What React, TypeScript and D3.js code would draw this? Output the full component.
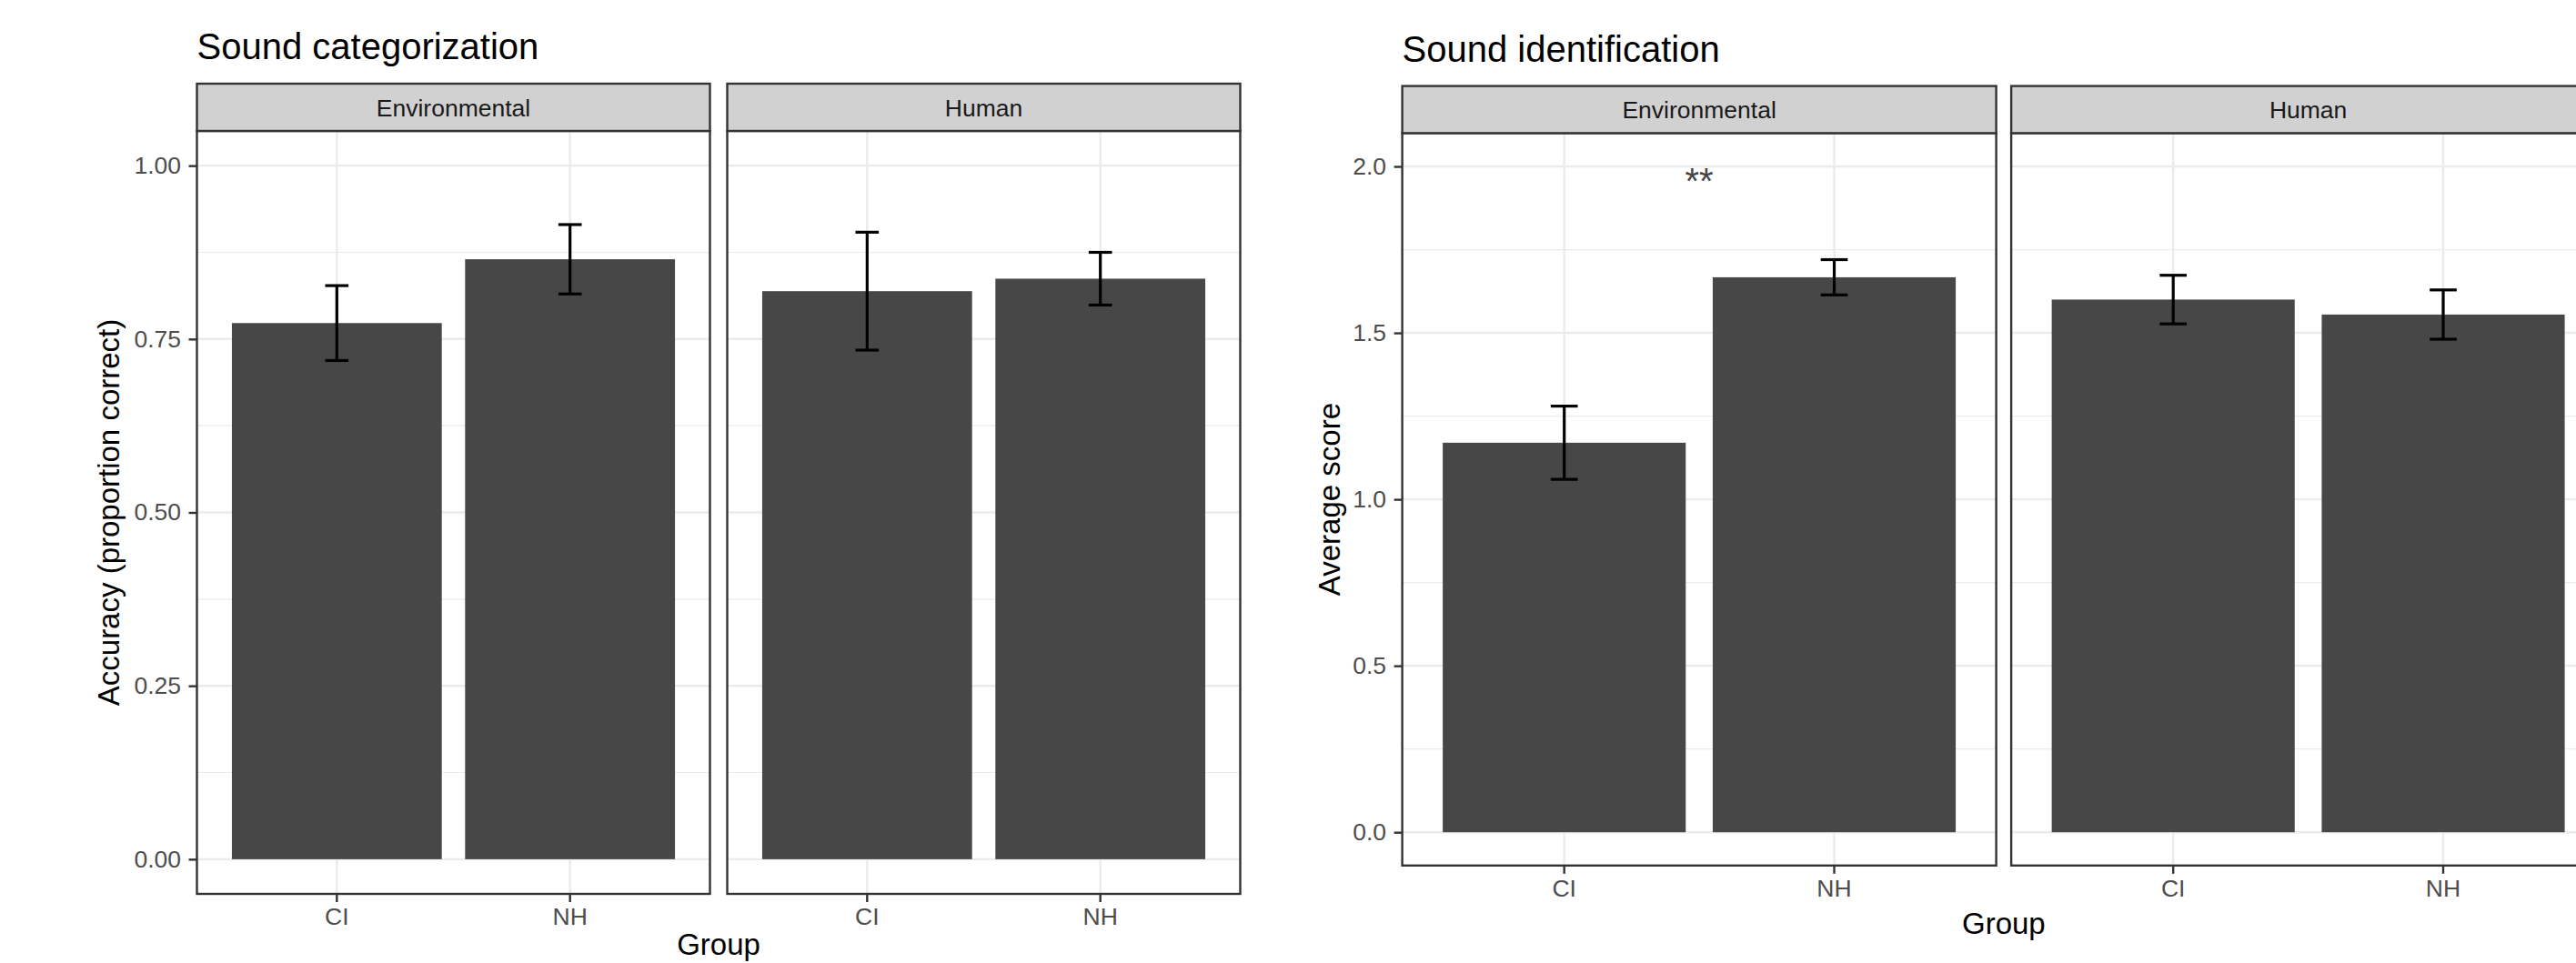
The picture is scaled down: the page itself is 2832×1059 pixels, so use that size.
import { useEffect, useRef } from 'react';
import * as d3 from 'd3';

const facets = ['Environmental', 'Human'];
const groups = ['CI', 'NH'];

// Sound categorization: accuracy (proportion correct), mean and error half-width
const catEnvMean = [0.773, 0.865];
const catEnvErr = [0.054, 0.05];
const catHumMean = [0.819, 0.837];
const catHumErr = [0.085, 0.038];
const catTicks = [0, 0.25, 0.5, 0.75, 1];
const catTickLabels = ['0.00', '0.25', '0.50', '0.75', '1.00'];
const catMinor = [0.125, 0.375, 0.625, 0.875];

// Sound identification: average score
const idEnvMean = [1.17, 1.667];
const idEnvErr = [0.11, 0.053];
const idHumMean = [1.6, 1.555];
const idHumErr = [0.073, 0.074];
const idTicks = [0, 0.5, 1, 1.5, 2];
const idTickLabels = ['0.0', '0.5', '1.0', '1.5', '2.0'];
const idMinor = [0.25, 0.75, 1.25, 1.75];
const idStars = [{ facet: 'Environmental', label: '**', value: 2.0 }];

const FONT = '"Liberation Sans", Arial, Helvetica, sans-serif';
const BAR = '#474747';
const GRID = '#ebebeb';
const BORDER = '#333333';

type Layout = {
  left: number;
  panelW: number;
  gap: number;
  titleY: number;
  stripTop: number;
  panelTop: number;
  panelBottom: number;
  yDomain: [number, number];
  yTitleX: number;
  xTitleY: number;
};

type Spec = {
  title: string;
  yTitle: string;
  means: number[][];
  errs: number[][];
  ticks: number[];
  tickLabels: string[];
  minor: number[];
  stars: { facet: string; label: string; value: number }[];
  layout: Layout;
};

function drawChart(svg: any, spec: Spec) {
  const L = spec.layout;
  const g = svg.append('g');

  const y = d3.scaleLinear().domain(L.yDomain).range([L.panelBottom, L.panelTop]);

  // title
  g.append('text')
    .attr('x', L.left)
    .attr('y', L.titleY)
    .attr('font-family', FONT)
    .attr('font-size', 40)
    .attr('fill', '#000')
    .text(spec.title);

  facets.forEach((facet, fi) => {
    const x0 = L.left + fi * (L.panelW + L.gap);
    const x = d3.scaleBand<string>()
      .domain(groups)
      .range([x0, x0 + L.panelW])
      .paddingInner(0.1)
      .paddingOuter(0.15);
    const cx = (d: string) => (x(d) as number) + x.bandwidth() / 2;
    const capHalf = (x.step() * 0.1) / 2;

    const p = g.append('g');

    // grid
    p.selectAll('.minor')
      .data(spec.minor)
      .enter()
      .append('line')
      .attr('x1', x0).attr('x2', x0 + L.panelW)
      .attr('y1', (d: number) => y(d)).attr('y2', (d: number) => y(d))
      .attr('stroke', GRID).attr('stroke-width', 1.2);
    p.selectAll('.major')
      .data(spec.ticks)
      .enter()
      .append('line')
      .attr('x1', x0).attr('x2', x0 + L.panelW)
      .attr('y1', (d: number) => y(d)).attr('y2', (d: number) => y(d))
      .attr('stroke', GRID).attr('stroke-width', 2.4);
    p.selectAll('.vmajor')
      .data(groups)
      .enter()
      .append('line')
      .attr('x1', cx).attr('x2', cx)
      .attr('y1', L.panelTop).attr('y2', L.panelBottom)
      .attr('stroke', GRID).attr('stroke-width', 2.4);

    const rows = groups.map((grp, i) => ({
      grp,
      mean: spec.means[fi][i],
      err: spec.errs[fi][i],
    }));

    // bars
    p.selectAll('.bar')
      .data(rows)
      .enter()
      .append('rect')
      .attr('x', (d: any) => x(d.grp))
      .attr('width', x.bandwidth())
      .attr('y', (d: any) => y(d.mean))
      .attr('height', (d: any) => y(0) - y(d.mean))
      .attr('fill', BAR);

    // error bars
    const eb = p.selectAll('.eb').data(rows).enter().append('g');
    eb.append('line')
      .attr('x1', (d: any) => cx(d.grp)).attr('x2', (d: any) => cx(d.grp))
      .attr('y1', (d: any) => y(d.mean - d.err)).attr('y2', (d: any) => y(d.mean + d.err));
    eb.append('line')
      .attr('x1', (d: any) => cx(d.grp) - capHalf).attr('x2', (d: any) => cx(d.grp) + capHalf)
      .attr('y1', (d: any) => y(d.mean + d.err)).attr('y2', (d: any) => y(d.mean + d.err));
    eb.append('line')
      .attr('x1', (d: any) => cx(d.grp) - capHalf).attr('x2', (d: any) => cx(d.grp) + capHalf)
      .attr('y1', (d: any) => y(d.mean - d.err)).attr('y2', (d: any) => y(d.mean - d.err));
    eb.selectAll('line').attr('stroke', '#000').attr('stroke-width', 3.2);

    // significance stars
    spec.stars.filter((s) => s.facet === facet).forEach((s) => {
      p.append('text')
        .attr('x', x0 + L.panelW / 2)
        .attr('y', y(s.value))
        .attr('dy', '0.74em')
        .attr('text-anchor', 'middle')
        .attr('font-family', FONT)
        .attr('font-size', 40)
        .attr('fill', '#444')
        .text(s.label);
    });

    // panel border
    p.append('rect')
      .attr('x', x0).attr('y', L.panelTop)
      .attr('width', L.panelW).attr('height', L.panelBottom - L.panelTop)
      .attr('fill', 'none').attr('stroke', BORDER).attr('stroke-width', 2.4);

    // strip
    p.append('rect')
      .attr('x', x0).attr('y', L.stripTop)
      .attr('width', L.panelW).attr('height', L.panelTop - L.stripTop)
      .attr('fill', '#d1d1d1').attr('stroke', BORDER).attr('stroke-width', 2.4);
    p.append('text')
      .attr('x', x0 + L.panelW / 2)
      .attr('y', (L.stripTop + L.panelTop) / 2)
      .attr('dy', '0.36em')
      .attr('text-anchor', 'middle')
      .attr('font-family', FONT)
      .attr('font-size', 26.5)
      .attr('fill', '#1a1a1a')
      .text(facet);

    // x axis
    const xa = p.append('g')
      .attr('transform', `translate(0,${L.panelBottom})`)
      .call(d3.axisBottom(x).tickSize(9).tickPadding(6.5));
    xa.select('.domain').remove();
    xa.selectAll('line').attr('stroke', BORDER).attr('stroke-width', 2.4);
    xa.selectAll('text')
      .attr('font-family', FONT)
      .attr('font-size', 26.5)
      .attr('fill', '#4d4d4d');

    // y axis on first panel only
    if (fi === 0) {
      const ya = p.append('g')
        .attr('transform', `translate(${x0},0)`)
        .call(
          d3.axisLeft(y)
            .tickValues(spec.ticks)
            .tickFormat((_d: any, i: number) => spec.tickLabels[i])
            .tickSize(9)
            .tickPadding(8.5)
        );
      ya.select('.domain').remove();
      ya.selectAll('line').attr('stroke', BORDER).attr('stroke-width', 2.4);
      ya.selectAll('text')
        .attr('font-family', FONT)
        .attr('font-size', 26.5)
        .attr('fill', '#4d4d4d');
    }
  });

  // axis titles
  const span0 = L.left;
  const span1 = L.left + 2 * L.panelW + L.gap;
  g.append('text')
    .attr('x', (span0 + span1) / 2)
    .attr('y', L.xTitleY)
    .attr('text-anchor', 'middle')
    .attr('font-family', FONT)
    .attr('font-size', 33)
    .attr('fill', '#000')
    .text('Group');

  const midY = (L.panelTop + L.panelBottom) / 2;
  g.append('text')
    .attr('transform', `translate(${L.yTitleX},${midY}) rotate(-90)`)
    .attr('text-anchor', 'middle')
    .attr('font-family', FONT)
    .attr('font-size', 33)
    .attr('fill', '#000')
    .text(spec.yTitle);
}

export default function App() {
  const svgRef = useRef<SVGSVGElement | null>(null);

  useEffect(() => {
    if (!svgRef.current) return;
    const svg = d3.select(svgRef.current);
    svg.selectAll('*').remove();

    drawChart(svg, {
      title: 'Sound categorization',
      yTitle: 'Accuracy (proportion correct)',
      means: [catEnvMean, catHumMean],
      errs: [catEnvErr, catHumErr],
      ticks: catTicks,
      tickLabels: catTickLabels,
      minor: catMinor,
      stars: [],
      layout: {
        left: 216.5,
        panelW: 564,
        gap: 19,
        titleY: 65,
        stripTop: 92,
        panelTop: 144,
        panelBottom: 983,
        yDomain: [-0.05, 1.05],
        yTitleX: 131,
        xTitleY: 1050,
      },
    });

    drawChart(svg, {
      title: 'Sound identification',
      yTitle: 'Average score',
      means: [idEnvMean, idHumMean],
      errs: [idEnvErr, idHumErr],
      ticks: idTicks,
      tickLabels: idTickLabels,
      minor: idMinor,
      stars: idStars,
      layout: {
        left: 1541.6,
        panelW: 653,
        gap: 16.5,
        titleY: 68,
        stripTop: 94.6,
        panelTop: 146.4,
        panelBottom: 951.8,
        yDomain: [-0.1, 2.1],
        yTitleX: 1473,
        xTitleY: 1027,
      },
    });
  }, []);

  return (
    <div style={{ position: 'absolute', left: 0, top: 0, width: 2832, height: 1059, background: '#fff' }}>
      <svg ref={svgRef} width={2832} height={1059} style={{ display: 'block', overflow: 'hidden' }} />
    </div>
  );
}
